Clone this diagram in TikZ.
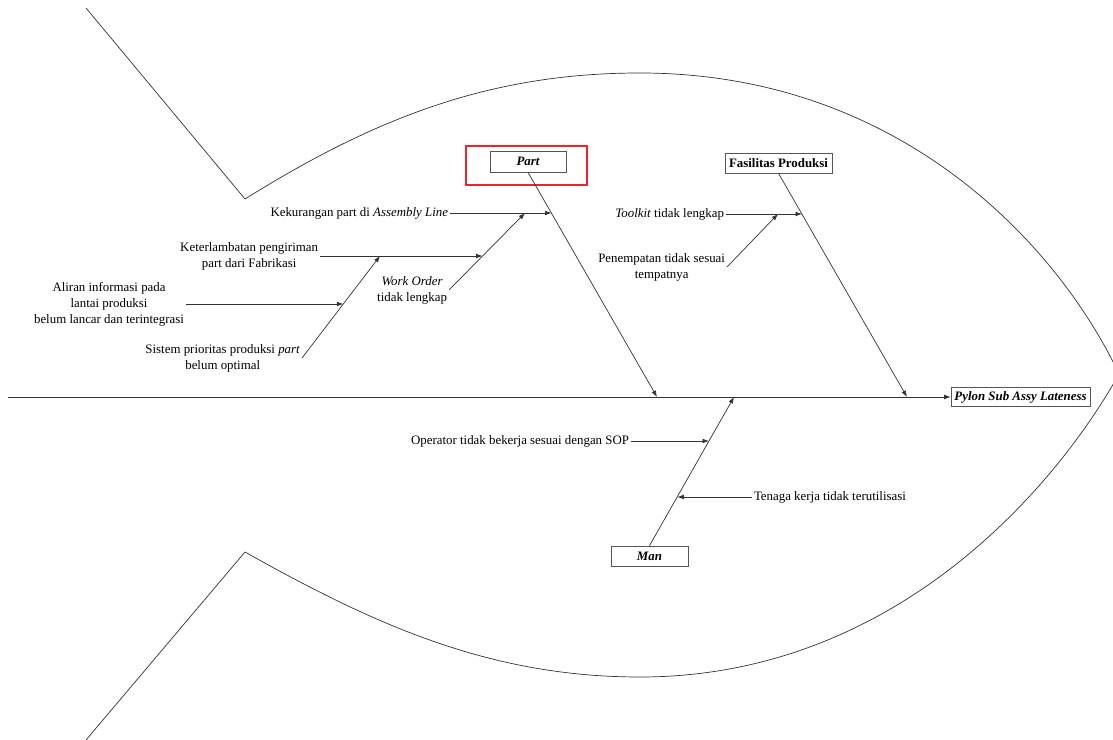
\documentclass[tikz,border=0pt]{standalone}
\usepackage{fontspec}
\setmainfont{Liberation Serif}
\usepackage{tikz}
\usetikzlibrary{arrows.meta}
\definecolor{boneline}{HTML}{333333}
\definecolor{boxline}{HTML}{555555}
\definecolor{hlred}{HTML}{E8262B}

\begin{document}
\begin{tikzpicture}[
  x=0.03cm, y=-0.03cm,
  font=\fontsize{11}{13.6}\selectfont,
  cause/.style={rectangle, draw=boxline, line width=0.6pt, inner sep=2pt, minimum height=0.6cm, font=\fontsize{11}{13}\selectfont\bfseries\itshape},
  eff/.style={cause, minimum width=4.17cm, minimum height=0.57cm},
  hl/.style={rectangle, draw=hlred, line width=1.4pt, minimum width=3.63cm, minimum height=1.17cm},
  txt/.style={align=center, inner sep=1.5pt},
  bone/.style={line width=0.6pt, draw=boneline},
  ar/.style={-{Latex[length=5.5pt, width=4pt]}, line width=0.6pt, draw=boneline}
]
\useasboundingbox (0,0) rectangle (1113,740);

% fish body
\draw[bone] (86,8) -- (245,199) .. controls (375,118) and (490,73) .. (640,73)
  .. controls (900,73) and (1058,245) .. (1119,374)
  .. controls (1060,480) and (900,677) .. (640,677)
  .. controls (490,677) and (375,625) .. (245,552) -- (86,740);

% head and spine
\node[eff] (head) at (1020.5,397) {Pylon Sub Assy Lateness};
\coordinate (tail) at (8,397);
\draw[ar] (tail) -- (head.west);

% main causes
\node[cause, minimum width=2.28cm, minimum height=0.63cm] (part) at (528,161.5) {Part};
\node[hl] (hlpart) at (526.5,165.5) {};
\node[cause, font=\fontsize{11}{13}\selectfont\bfseries, minimum width=3.21cm] (fas) at (778.5,163) {Fasilitas Produksi};
\node[cause, minimum width=2.31cm] (man) at (649.5,556) {Man};

\coordinate (sp1) at (657,397);
\coordinate (sp2) at (907,397);
\coordinate (sp3) at (734,397);
\draw[ar] (part.south) -- (sp1);
\draw[ar] (fas.south) -- (sp2);
\draw[ar] (man.north) -- (sp3);

% Part
\node[txt, anchor=east] (kek) at (450,213) {Kekurangan part di \textit{Assembly Line}};
\coordinate (pk) at (551.5,213);
\draw[ar] (kek.east) -- (pk);

\node[txt, anchor=east] (wo) at (449,290) {\textit{Work Order}\\tidak lengkap};
\coordinate (pw) at (525,213);
\draw[ar] (wo.east) -- (pw);

\node[txt, anchor=east] (ket) at (320,256) {Keterlambatan pengiriman\\part dari Fabrikasi};
\coordinate (pt) at (482.6,256);
\draw[ar] (ket.east) -- (pt);

\node[txt, anchor=east] (sis) at (302,358) {Sistem prioritas produksi \textit{part}\\belum optimal};
\coordinate (ps) at (380,256);
\draw[ar] (sis.east) -- (ps);

\node[txt, anchor=east] (ali) at (186,304) {Aliran informasi pada\\lantai produksi\\belum lancar dan terintegrasi};
\coordinate (pa) at (343.3,304);
\draw[ar] (ali.east) -- (pa);

% Fasilitas Produksi
\node[txt, anchor=east] (tool) at (726,214) {\textit{Toolkit} tidak lengkap};
\coordinate (ft) at (802,214);
\draw[ar] (tool.east) -- (ft);

\node[txt, anchor=east] (pen) at (727,267) {Penempatan tidak sesuai\\tempatnya};
\coordinate (fp) at (778,214);
\draw[ar] (pen.east) -- (fp);

% Man
\node[txt, anchor=east] (op) at (631,441) {Operator tidak bekerja sesuai dengan SOP};
\coordinate (mo) at (709,441);
\draw[ar] (op.east) -- (mo);

\node[txt, anchor=west] (ten) at (752,497) {Tenaga kerja tidak terutilisasi};
\coordinate (mt) at (677.3,497);
\draw[ar] (ten.west) -- (mt);

\end{tikzpicture}
\end{document}
